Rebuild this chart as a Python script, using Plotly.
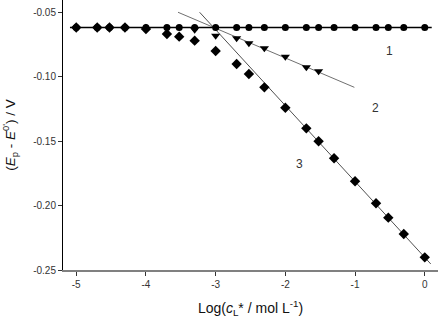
import plotly.graph_objects as go

# log10 concentrations
x_all = [-5, -4.699, -4.523, -4.301, -4, -3.699, -3.523, -3.301, -3, -2.699, -2.523,
         -2.301, -2, -1.699, -1.523, -1.301, -1, -0.699, -0.523, -0.301, 0]

# series 1 (circles)
y1 = [-0.062] * 21

# series 2 (down triangles)
x2 = [-3.301, -3, -2.699, -2.523, -2.301, -2, -1.699, -1.523]
y2 = [-0.0637, -0.0684, -0.0704, -0.0743, -0.0781, -0.0846, -0.0929, -0.0960]

# series 3 (diamonds)
y3 = [-0.062, -0.062, -0.062, -0.062, -0.0632, -0.0671, -0.0691, -0.0722, -0.0802, -0.0903,
      -0.0981, -0.1084, -0.1242, -0.1402, -0.1502, -0.1634, -0.1812, -0.1983, -0.2094,
      -0.2221, -0.2402]

# fit lines
fit1_x = [-5.09, 0.10]
fit1_y = [-0.062, -0.062]
fit2_x = [-3.54, -1.01]
fit2_y = [-0.0502, -0.1084]
fit3_x = [-3.23, 0.086]
fit3_y = [-0.0502, -0.2453]

labels = ["1", "2", "3"]
label_x = [-0.51, -0.70, -1.79]
label_y = [-0.0802, -0.1244, -0.1678]

fig = go.Figure()
fig.add_trace(go.Scatter(x=fit1_x, y=fit1_y, mode="lines", line=dict(color="black", width=1.3)))
fig.add_trace(go.Scatter(x=fit2_x, y=fit2_y, mode="lines", line=dict(color="#707070", width=1)))
fig.add_trace(go.Scatter(x=fit3_x, y=fit3_y, mode="lines", line=dict(color="#505050", width=1)))
fig.add_trace(go.Scatter(x=x_all, y=y3, mode="markers",
                         marker=dict(symbol="diamond", size=8, color="black")))
fig.add_trace(go.Scatter(x=x2, y=y2, mode="markers",
                         marker=dict(symbol="triangle-down", size=8, color="black")))
fig.add_trace(go.Scatter(x=x_all, y=y1, mode="markers",
                         marker=dict(symbol="circle", size=7, color="black")))

for t, lx, ly in zip(labels, label_x, label_y):
    fig.add_annotation(x=lx, y=ly, text=t, showarrow=False,
                       font=dict(family="Liberation Sans, Arial", size=12, color="#333"))

fig.update_layout(
    width=441, height=328,
    margin=dict(l=63, r=3, t=0, b=58),
    plot_bgcolor="white", paper_bgcolor="white",
    showlegend=False,
    font=dict(family="Liberation Sans, Arial", size=10, color="#333"),
)
fig.update_xaxes(range=[-5.19, 0.19], tickvals=[-5, -4, -3, -2, -1, 0],
                 ticktext=["-5", "-4", "-3", "-2", "-1", "0"],
                 showgrid=False, zeroline=False, showline=True, linecolor="#808080", linewidth=2,
                 ticks="outside", ticklen=4, tickcolor="#333",
                 title=dict(text="Log(<i>c</i><sub>L</sub>* / mol L<sup>-1</sup>)",
                            font=dict(size=14, color="#111"), standoff=14))
fig.update_yaxes(range=[-0.25, -0.0407], tickvals=[-0.25, -0.20, -0.15, -0.10, -0.05],
                 ticktext=["-0.25", "-0.20", "-0.15", "-0.10", "-0.05"],
                 showgrid=False, zeroline=False, showline=True, linecolor="black", linewidth=1,
                 ticks="outside", ticklen=4, tickcolor="#333",
                 title=dict(text="(<i>E</i><sub>p</sub> - <i>E</i><sup>0'</sup>) / V",
                            font=dict(size=13.5, color="#111"), standoff=14))
fig.write_html("out.html")
